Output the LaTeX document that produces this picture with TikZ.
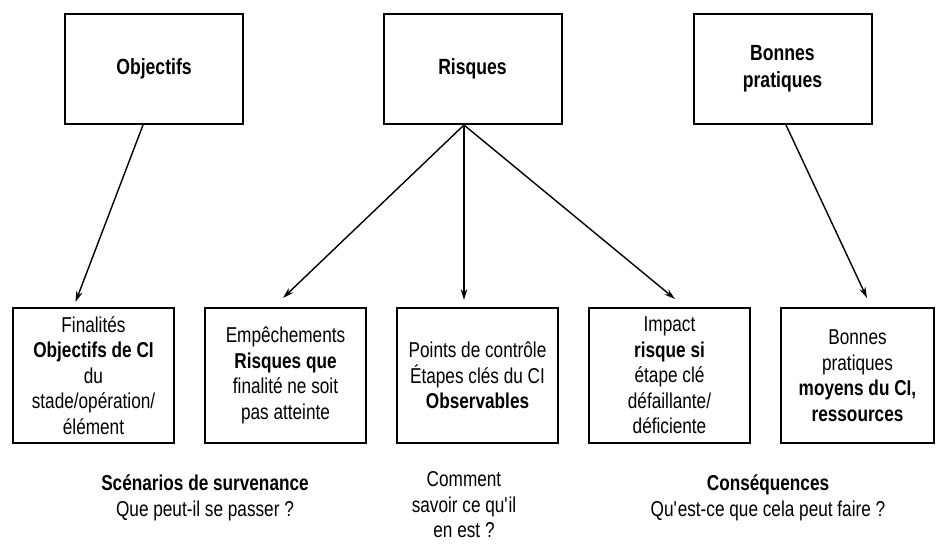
\documentclass[tikz,border=0pt]{standalone}
\usepackage{fontspec}
\setmainfont{Liberation Sans}[FakeStretch=0.8]
\usetikzlibrary{arrows.meta, positioning}

\begin{document}
\begin{tikzpicture}[
      x=1pt, y=-1pt, >={Stealth[length=11pt,width=6.5pt]},
      line width=1.4pt, node distance=29pt,
      every node/.style={font=\fontsize{21.5}{25.5}\selectfont, align=center},
      topbox/.style={draw, line width=2pt, minimum width=178pt, minimum height=110pt,
        font=\bfseries\fontsize{22}{27}\selectfont},
      basebox/.style={draw, line width=2pt, minimum width=161pt, minimum height=135pt, inner sep=0pt},
      ]
      \useasboundingbox (0,0) rectangle (937,544);

      % top row
      \node[topbox] (obj)  at (154,69)   {Objectifs};
      \node[topbox] (risk) at (472.5,69) {Risques};
      \node[topbox] (bon)  at (782.5,69) {Bonnes\\pratiques};

      % bottom row
      \node[basebox] (fin) at (93.5,375.5)
        {Finalités\\\textbf{Objectifs de CI}\\du\\stade/opération/\\élément};
      \node[basebox] (emp) [right=of fin]
        {Empêchements\\\textbf{Risques que}\\finalité ne soit\\pas atteinte};
      \node[basebox] (pts) [right=of emp]
        {Points de contrôle\\Étapes clés du CI\\\textbf{Observables}};
      \node[basebox] (imp) [right=of pts]
        {Impact\\\textbf{risque si}\\étape clé\\défaillante/\\déficiente};
      \node[basebox, minimum width=153pt] (bpr) [right=of imp]
        {Bonnes\\pratiques\\\textbf{moyens du CI,}\\\textbf{ressources}};

      % captions
      \node (scen) at (205,498) {\textbf{Scénarios de survenance}\\Que peut-il se passer ?};
      \node[inner sep=0pt] (comm) at (464,505) {Comment\\savoir ce qu\textquotesingle il\\en est ?};
      \node (cons) at (768,498) {\textbf{Conséquences}\\Qu\textquotesingle est-ce que cela peut faire ?};

      \draw[->] ([xshift=-11pt]obj.south)   -- ([xshift=-18pt,yshift=5pt]fin.north);
      \draw[->] ([xshift=-8.5pt]risk.south) -- ([xshift=-2.5pt,yshift=9pt]emp.north);
      \draw[->] ([xshift=-8.5pt]risk.south) -- ([xshift=-13.5pt,yshift=7pt]pts.north);
      \draw[->] ([xshift=-8.5pt]risk.south) -- ([xshift=5.5pt,yshift=8pt]imp.north);
      \draw[->] ([xshift=3.5pt]bon.south)   -- ([xshift=9.5pt,yshift=9pt]bpr.north);
\end{tikzpicture}
\end{document}
